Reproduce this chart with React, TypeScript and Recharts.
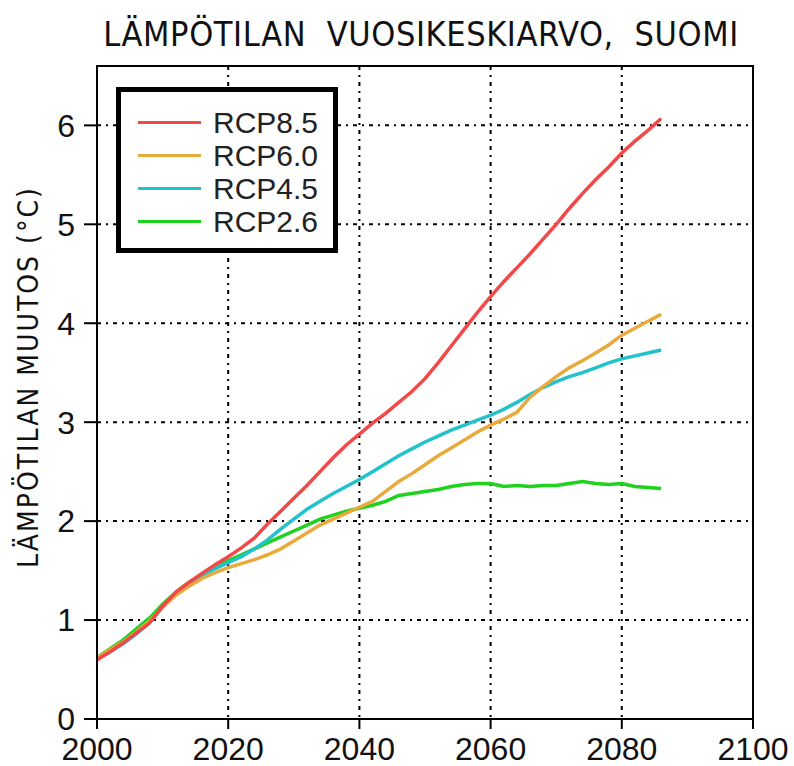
import React from "react";
import {
  LineChart,
  Line,
  XAxis,
  YAxis,
  CartesianGrid,
  Legend,
  ReferenceArea,
} from "recharts";

// vuodet 2000-2086, joka toinen vuosi
const years = [
  2000, 2002, 2004, 2006, 2008, 2010, 2012, 2014, 2016, 2018, 2020, 2022, 2024,
  2026, 2028, 2030, 2032, 2034, 2036, 2038, 2040, 2042, 2044, 2046, 2048, 2050,
  2052, 2054, 2056, 2058, 2060, 2062, 2064, 2066, 2068, 2070, 2072, 2074, 2076,
  2078, 2080, 2082, 2084, 2086,
];

const rcp85 = [
  0.6, 0.68, 0.77, 0.87, 0.97, 1.14, 1.28, 1.38, 1.47, 1.56, 1.64, 1.73, 1.83,
  1.97, 2.1, 2.23, 2.36, 2.5, 2.64, 2.77, 2.88, 2.99, 3.09, 3.2, 3.31, 3.44,
  3.6, 3.77, 3.94, 4.11, 4.27, 4.42, 4.56, 4.7, 4.85, 5.0, 5.16, 5.31, 5.45,
  5.58, 5.72, 5.84, 5.95, 6.07,
];

const rcp60 = [
  0.62, 0.7, 0.78, 0.88, 0.99, 1.13, 1.25, 1.34, 1.42, 1.48, 1.53, 1.57, 1.61,
  1.66, 1.72, 1.8, 1.88, 1.96, 2.02, 2.08, 2.14, 2.2, 2.3, 2.4, 2.48, 2.57,
  2.66, 2.74, 2.82, 2.9, 2.97, 3.03, 3.1, 3.25, 3.36, 3.46, 3.55, 3.62, 3.7,
  3.78, 3.88, 3.95, 4.02, 4.09,
];

const rcp45 = [
  0.6, 0.68, 0.76, 0.86, 0.97, 1.13, 1.27, 1.37, 1.45, 1.52, 1.58, 1.64, 1.72,
  1.81, 1.92, 2.02, 2.12, 2.2, 2.28, 2.35, 2.42, 2.5, 2.58, 2.66, 2.73, 2.8,
  2.86, 2.92, 2.97, 3.02, 3.07, 3.13, 3.2, 3.28, 3.35, 3.41, 3.46, 3.5, 3.55,
  3.6, 3.64, 3.67, 3.7, 3.73,
];

const rcp26 = [
  0.62, 0.71, 0.8, 0.91, 1.02, 1.16, 1.28, 1.38, 1.46, 1.54, 1.6, 1.66, 1.72,
  1.78, 1.84, 1.9, 1.96, 2.02, 2.06, 2.1, 2.13, 2.16, 2.2, 2.26, 2.28, 2.3,
  2.32, 2.35, 2.37, 2.38, 2.38, 2.35, 2.36, 2.35, 2.36, 2.36, 2.38, 2.4, 2.38,
  2.37, 2.38, 2.35, 2.34, 2.33,
];

const xTicks = [2000, 2020, 2040, 2060, 2080, 2100];
const yTicks = [0, 1, 2, 3, 4, 5, 6];

const series = [
  { key: "rcp85", name: "RCP8.5", color: "#f24848" },
  { key: "rcp60", name: "RCP6.0", color: "#e8aa3c" },
  { key: "rcp45", name: "RCP4.5", color: "#22c2cc" },
  { key: "rcp26", name: "RCP2.6", color: "#1ed21e" },
];

const data = years.map((year, i) => ({
  year,
  rcp85: rcp85[i],
  rcp60: rcp60[i],
  rcp45: rcp45[i],
  rcp26: rcp26[i],
}));

const tickFont = {
  fontFamily: "'Liberation Sans', Arial, sans-serif",
  fontSize: 32,
  fill: "#111",
};

const LegendBox = () => (
  <div
    style={{
      boxSizing: "border-box",
      width: 222,
      height: 166,
      border: "5px solid #000",
      background: "#fff",
      paddingTop: 14,
    }}
  >
    {series.map((s) => (
      <div
        key={s.key}
        style={{ height: 33, display: "flex", alignItems: "center" }}
      >
        <svg width={92} height={33} style={{ flex: "none" }}>
          <line x1={17} x2={80} y1={16.5} y2={16.5} stroke={s.color} strokeWidth={3} />
        </svg>
        <span
          style={{
            fontFamily: "'Liberation Sans', Arial, sans-serif",
            fontSize: 30,
            color: "#222",
            lineHeight: "33px",
          }}
        >
          {s.name}
        </span>
      </div>
    ))}
  </div>
);

const YLabel = () => (
  <text
    x={38}
    y={377}
    transform="rotate(-90, 38, 377)"
    textAnchor="middle"
    style={{
      fontFamily: "'DejaVu Sans Condensed', sans-serif",
      fontSize: 28,
      letterSpacing: 2,
      fill: "#111",
    }}
  >
    LÄMPÖTILAN MUUTOS (°C)
  </text>
);

export default function App() {
  return (
    <div style={{ position: "absolute", left: 0, top: 0, width: 794, height: 766, background: "#fff" }}>
      <div
        style={{
          position: "absolute",
          left: 0,
          width: 842,
          top: 14,
          textAlign: "center",
          fontFamily: "'DejaVu Sans Condensed', sans-serif",
          fontSize: 34,
          letterSpacing: 0.6,
          whiteSpace: "pre",
          color: "#111",
          lineHeight: "40px",
        }}
      >
        {"LÄMPÖTILAN  VUOSIKESKIARVO,  SUOMI"}
      </div>
      <LineChart
        width={794}
        height={766}
        data={data}
        margin={{ top: 66, right: 41, left: 0, bottom: 0 }}
      >
        <CartesianGrid stroke="#000" strokeWidth={2} strokeDasharray="4 5 2 5" />
        <XAxis
          dataKey="year"
          type="number"
          domain={[2000, 2100]}
          ticks={xTicks}
          interval={0}
          height={47}
          tickSize={10}
          tickMargin={8}
          tick={tickFont}
          axisLine={{ stroke: "#000", strokeWidth: 2 }}
          tickLine={{ stroke: "#000", strokeWidth: 2 }}
        />
        <YAxis
          type="number"
          domain={[0, 6.6]}
          ticks={yTicks}
          interval={0}
          width={97}
          tickSize={13}
          tickMargin={9}
          tick={tickFont}
          axisLine={{ stroke: "#000", strokeWidth: 2 }}
          tickLine={{ stroke: "#000", strokeWidth: 2 }}
          label={<YLabel />}
        />
        <ReferenceArea
          x1={2000}
          x2={2100}
          y1={0}
          y2={6.6}
          fill="none"
          stroke="#000"
          strokeWidth={2}
          ifOverflow="visible"
        />
        {[...series].reverse().map((s) => (
          <Line
            key={s.key}
            type="linear"
            dataKey={s.key}
            name={s.name}
            stroke={s.color}
            strokeWidth={3.5}
            dot={false}
            isAnimationActive={false}
          />
        ))}
        <Legend
          layout="vertical"
          align="center"
          verticalAlign="middle"
          content={<LegendBox />}
          wrapperStyle={{ left: 116, top: 87, width: 222, height: 166 }}
        />
      </LineChart>
    </div>
  );
}
